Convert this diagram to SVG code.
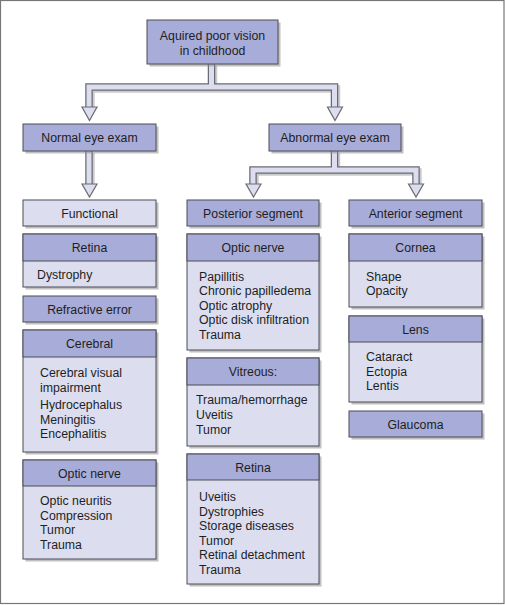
<svg xmlns="http://www.w3.org/2000/svg" width="505" height="605" viewBox="0 0 505 605">
<style>
.sh{fill:#8c8c8c;opacity:0.55}
.med{fill:#a8acd8;stroke:#4d4d55;stroke-width:1}
.lt{fill:#dcdef0;stroke:#4d4d55;stroke-width:1}
text{font-family:"Liberation Sans",Arial,sans-serif;font-size:12.3px;fill:#1e1e1e}
.c{text-anchor:middle}
.po{fill:none;stroke:#6a6a72;stroke-width:7.5;stroke-linejoin:miter}
.pi{fill:none;stroke:#dcdef0;stroke-width:5;stroke-linejoin:miter}
.psh{fill:none;stroke:#aaaaaa;stroke-width:7.5;opacity:0.6}
.ah{fill:#dcdef0;stroke:#6a6a72;stroke-width:1.2;stroke-linejoin:miter}
</style>
<rect x="0.5" y="0.5" width="503.5" height="603" fill="#ffffff" stroke="#777777" stroke-width="1.2"/>

<g id="connectors">
  <path class="psh" d="M213.5 66 V89 H91 V109 M213.5 89 H336.5 V109"/>
  <path class="psh" d="M91 153 V186"/>
  <path class="psh" d="M336.5 153 V172 H255 V186 M336.5 172 H418 V186"/>
  <path class="po" d="M211.5 64 V87 H89 V108 M211.5 87 H334.5 V108"/>
  <path class="pi" d="M211.5 64 V87 H89 V108 M211.5 87 H334.5 V108"/>
  <path class="po" d="M89 151 V185"/>
  <path class="pi" d="M89 151 V185"/>
  <path class="po" d="M334.5 151 V170 H253 V185 M334.5 170 H416 V185"/>
  <path class="pi" d="M334.5 151 V170 H253 V185 M334.5 170 H416 V185"/>
  <polygon class="ah" points="82,107 97,107 89.5,120.5"/>
  <polygon class="ah" points="327.5,107 342.5,107 335,120.5"/>
  <polygon class="ah" points="82,184 97,184 89.5,197"/>
  <polygon class="ah" points="246,184 261,184 253.5,197"/>
  <polygon class="ah" points="408.5,184 423.5,184 416,197"/>
</g>

<g id="root">
  <rect class="sh" x="149.5" y="22.5" width="131" height="44"/>
  <rect class="med" x="147" y="20" width="131" height="44"/>
  <text class="c" x="212.5" y="39.5">Aquired poor vision</text>
  <text class="c" x="212.5" y="54.5">in childhood</text>
</g>

<g id="normal">
  <rect class="sh" x="25.5" y="126.5" width="133" height="27"/>
  <rect class="med" x="23" y="124" width="133" height="27"/>
  <text class="c" x="89.5" y="142">Normal eye exam</text>
</g>

<g id="abnormal">
  <rect class="sh" x="271.5" y="126.5" width="132" height="27"/>
  <rect class="med" x="269" y="124" width="132" height="27"/>
  <text class="c" x="335" y="142">Abnormal eye exam</text>
</g>

<g id="functional">
  <rect class="sh" x="25.5" y="202.5" width="133" height="26"/>
  <rect class="lt" x="23" y="200" width="133" height="26"/>
  <text class="c" x="89.5" y="217.5">Functional</text>
</g>

<g id="retina1">
  <rect class="sh" x="25.5" y="236.5" width="133" height="53"/>
  <rect class="lt" x="23" y="234" width="133" height="53"/>
  <rect class="med" x="23" y="234" width="133" height="27"/>
  <text class="c" x="89.5" y="252">Retina</text>
  <text x="37" y="278.5">Dystrophy</text>
</g>

<g id="refractive">
  <rect class="sh" x="25.5" y="298.5" width="133" height="26"/>
  <rect class="med" x="23" y="296" width="133" height="26"/>
  <text class="c" x="89.5" y="313.5">Refractive error</text>
</g>

<g id="cerebral">
  <rect class="sh" x="25.5" y="332.5" width="133" height="122"/>
  <rect class="lt" x="23" y="330" width="133" height="122"/>
  <rect class="med" x="23" y="330" width="133" height="27"/>
  <text class="c" x="89.5" y="348">Cerebral</text>
  <text x="40" y="377">Cerebral visual</text>
  <text x="40" y="391.5">impairment</text>
  <text x="40" y="409">Hydrocephalus</text>
  <text x="40" y="423.5">Meningitis</text>
  <text x="40" y="438">Encephalitis</text>
</g>

<g id="opticnerve1">
  <rect class="sh" x="25.5" y="462.5" width="133" height="99"/>
  <rect class="lt" x="23" y="460" width="133" height="99"/>
  <rect class="med" x="23" y="460" width="133" height="26"/>
  <text class="c" x="89.5" y="477.5">Optic nerve</text>
  <text x="40" y="505">Optic neuritis</text>
  <text x="40" y="519.5">Compression</text>
  <text x="40" y="534">Tumor</text>
  <text x="40" y="548.5">Trauma</text>
</g>

<g id="posterior">
  <rect class="sh" x="189.5" y="202.5" width="132" height="26"/>
  <rect class="med" x="187" y="200" width="132" height="26"/>
  <text class="c" x="253" y="217.5">Posterior segment</text>
</g>

<g id="opticnerve2">
  <rect class="sh" x="189.5" y="236.5" width="132" height="116"/>
  <rect class="lt" x="187" y="234" width="132" height="116"/>
  <rect class="med" x="187" y="234" width="132" height="27"/>
  <text class="c" x="253" y="252">Optic nerve</text>
  <text x="199" y="280.5">Papillitis</text>
  <text x="199" y="295">Chronic papilledema</text>
  <text x="199" y="309.5">Optic atrophy</text>
  <text x="199" y="324">Optic disk infiltration</text>
  <text x="199" y="338.5">Trauma</text>
</g>

<g id="vitreous">
  <rect class="sh" x="189.5" y="360.5" width="132" height="88"/>
  <rect class="lt" x="187" y="358" width="132" height="88"/>
  <rect class="med" x="187" y="358" width="132" height="27"/>
  <text class="c" x="253" y="376">Vitreous:</text>
  <text x="196" y="404">Trauma/hemorrhage</text>
  <text x="196" y="419">Uveitis</text>
  <text x="196" y="433.5">Tumor</text>
</g>

<g id="retina2">
  <rect class="sh" x="189.5" y="456.5" width="132" height="130"/>
  <rect class="lt" x="187" y="454" width="132" height="130"/>
  <rect class="med" x="187" y="454" width="132" height="26"/>
  <text class="c" x="253" y="471.5">Retina</text>
  <text x="199" y="501">Uveitis</text>
  <text x="199" y="515.5">Dystrophies</text>
  <text x="199" y="530">Storage diseases</text>
  <text x="199" y="544.5">Tumor</text>
  <text x="199" y="559">Retinal detachment</text>
  <text x="199" y="573.5">Trauma</text>
</g>

<g id="anterior">
  <rect class="sh" x="351.5" y="202.5" width="133" height="26"/>
  <rect class="med" x="349" y="200" width="133" height="26"/>
  <text class="c" x="415.5" y="217.5">Anterior segment</text>
</g>

<g id="cornea">
  <rect class="sh" x="351.5" y="236.5" width="133" height="73"/>
  <rect class="lt" x="349" y="234" width="133" height="73"/>
  <rect class="med" x="349" y="234" width="133" height="27"/>
  <text class="c" x="415.5" y="252">Cornea</text>
  <text x="366" y="280.5">Shape</text>
  <text x="366" y="295">Opacity</text>
</g>

<g id="lens">
  <rect class="sh" x="351.5" y="318.5" width="133" height="86"/>
  <rect class="lt" x="349" y="316" width="133" height="86"/>
  <rect class="med" x="349" y="316" width="133" height="26"/>
  <text class="c" x="415.5" y="333.5">Lens</text>
  <text x="366" y="361">Cataract</text>
  <text x="366" y="375.5">Ectopia</text>
  <text x="366" y="390">Lentis</text>
</g>

<g id="glaucoma">
  <rect class="sh" x="351.5" y="413.5" width="133" height="26"/>
  <rect class="med" x="349" y="411" width="133" height="26"/>
  <text class="c" x="415.5" y="428.5">Glaucoma</text>
</g>
</svg>
